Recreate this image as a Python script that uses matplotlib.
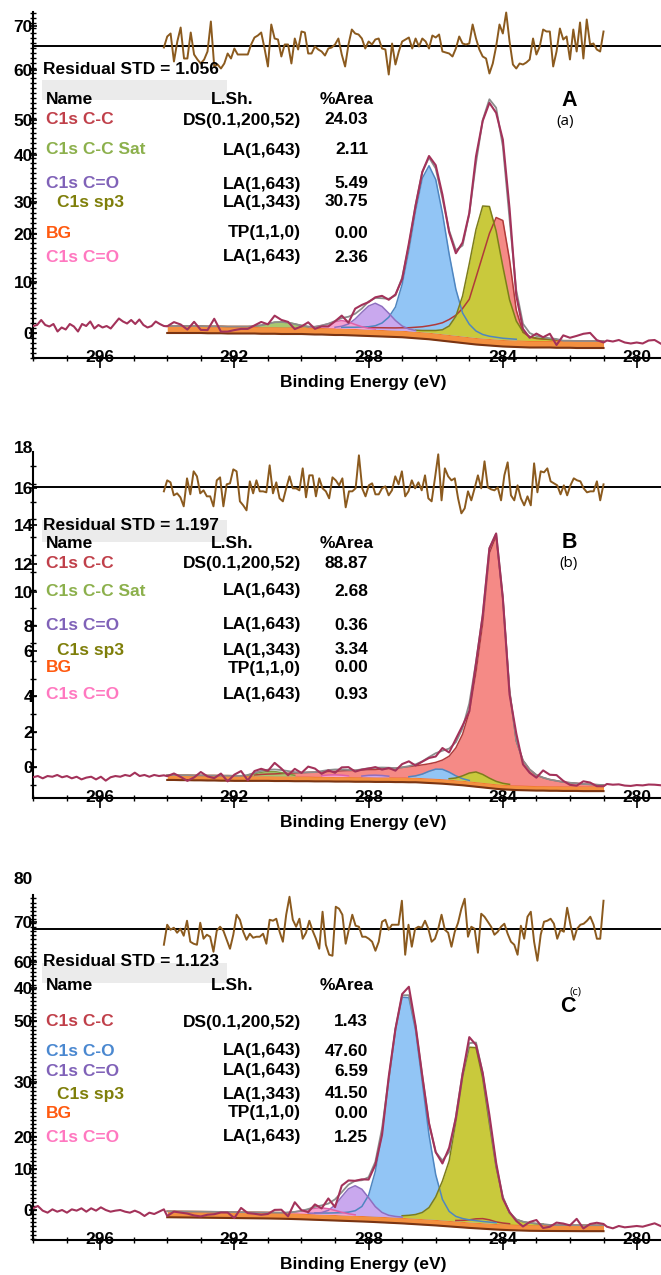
import numpy as np
import matplotlib.pyplot as plt
from matplotlib.patches import Rectangle

plt.rcParams['font.family'] = ['Liberation Sans', 'DejaVu Sans']

W, H = 661, 1275
E_HI, E_STEP = 294.0, 0.2
energy = np.round(E_HI - E_STEP * np.arange(66), 1)   # fitted region 294.0 ... 281.0 eV

x_major = [296, 292, 288, 284, 280]

# ---------------- panel A ----------------
a_ytick_pos = [61.3, 52.6, 42.5, 35.6, 26.2, 19.8, 10.2, 0]
a_ytick_lab = ['70', '60', '50', '40', '30', '20', '10', '0']
a_data_left = [1.4, 1.6, 2.6, 1.6, 1.3, 1.8, 0.3, 1.1, 0.7, 1.8, 1.3, 0.3, 1.8, 1.4, 2.3, 0.9, 1.6,
               1.1, 1.4, 0.9, 1.9, 2.9, 2.3, 1.9, 2.6, 1.8, 2.7, 1.6, 1.1, 1.4, 2.3, 1.8, 1.4]
a_data_right = [-1.5, -1.7, -1.4, -1.9, -2.1, -1.9, -2.1, -1.5, -1.4, -2.1]
a_bg = [1.4, 1.4, 1.4, 1.4, 1.4, 1.4, 1.35, 1.35, 1.35, 1.3, 1.3, 1.3, 1.3, 1.3, 1.25, 1.25, 1.25, 1.2, 1.2, 1.2, 1.2,
        1.15, 1.1, 1.1, 1.05, 1.0, 1.0, 0.95, 0.9, 0.85, 0.8, 0.75, 0.7, 0.65, 0.6, 0.55,
        0.45, 0.35, 0.25, 0.15, 0.0, -0.15, -0.3, -0.45, -0.6, -0.75, -0.9, -1.0, -1.1, -1.2, -1.3, -1.35, -1.4,
        -1.45, -1.5, -1.5, -1.5, -1.5, -1.55, -1.55, -1.55, -1.6, -1.6, -1.6, -1.6, -1.6]
a_cc = (288.0, [0.3, 0.32, 0.35, 0.38, 0.42, 0.5, 0.6, 0.8, 1.0, 1.3, 1.7, 2.2, 3.0, 4.0, 5.5, 7.5, 12.0, 16.5,
                21.0, 24.3, 23.8, 16.0, 6.0, 1.6, 0.7, 0.4, 0.3, 0.2, 0.15])
a_co = (288.8, [0.15, 0.2, 0.25, 0.35, 0.45, 0.7, 1.3, 2.5, 4.6, 9.2, 16.1, 24.1, 30.7, 33.3, 30.7, 24.1, 16.1,
                9.2, 4.6, 2.5, 1.3, 0.7, 0.45, 0.35, 0.25, 0.2, 0.15])
a_sp3 = (286.6, [0.2, 0.25, 0.35, 0.5, 0.8, 1.7, 3.8, 8.0, 14.6, 21.6, 26.4, 26.4, 21.6, 14.6, 8.0, 3.8, 1.7,
                 0.8, 0.5, 0.35, 0.25, 0.2])
a_cdo = (289.0, [0.15, 0.35, 0.85, 1.9, 3.3, 4.6, 5.2, 4.6, 3.3, 1.9, 0.85, 0.35, 0.15])
a_cdo2 = (289.8, [0.05, 0.15, 0.4, 0.8, 1.25, 1.5, 1.25, 0.8, 0.4, 0.15, 0.05])
a_sat = (291.4, [0.1, 0.3, 0.6, 0.9, 1.0, 0.9, 0.6, 0.3, 0.1])
a_resid = [-1, 10, 13, -15, 5, 19, -12, -12, 14, -8, -13, -17, -13, -5, 25, -20, -18, -22, -17, -7,
           -12, -2, -8, -8, -8, -8, 2, 9, 11, 14, -2, -20, 22, 8, 7, -10, 2, 2, -17, 8,
           -3, 15, 14, -7, -7, 0, -3, -5, -9, -2, -1, 2, 8, -8, -20, 2, 17, 13, 12, 8,
           -2, 5, 2, 7, 8, -2, -3, -28, 3, -18, -5, 5, 7, 9, -2, 8, 0, 8, 5, -2,
           11, 9, 12, -5, -6, -7, -10, -2, 10, 3, 2, 3, 22, 8, -3, -10, -12, -27, -17, 0,
           22, 13, 34, 5, -18, -22, -17, -18, -16, -13, 8, -8, 0, 17, 15, 15, -20, -5, 18, 7,
           10, -13, 17, -5, 24, -12, 27, 2, 3, -3, -5, 15]
a_names = ['C1s C-C', 'C1s C-C Sat', 'C1s C=O', 'C1s sp3', 'BG', 'C1s C=O']
a_shapes = ['DS(0.1,200,52)', 'LA(1,643)', 'LA(1,643)', 'LA(1,343)', 'TP(1,1,0)', 'LA(1,643)']
a_area = ['24.03', '2.11', '5.49', '30.75', '0.00', '2.36']

# ---------------- panel B ----------------
b_ytick_pos = [17.97, 15.76, 13.67, 11.47, 9.89, 7.97, 6.55, 4.01, 1.98, 0]
b_ytick_lab = ['18', '16', '14', '12', '10', '8', '6', '4', '2', '0']
b_data_left = [-0.58, -0.51, -0.64, -0.51, -0.55, -0.45, -0.58, -0.51, -0.64, -0.55, -0.70, -0.60, -0.55, -0.70,
               -0.55, -0.77, -0.58, -0.51, -0.55, -0.45, -0.51, -0.32, -0.51, -0.45, -0.55, -0.45, -0.51, -0.47]
b_data_right = [-0.96, -1.0, -0.98, -1.05, -1.07, -1.02, -1.04, -0.99, -1.0, -1.03]
b_bg = [-0.45, -0.45, -0.46, -0.46, -0.47, -0.47, -0.48, -0.48, -0.49, -0.49, -0.5, -0.5, -0.5, -0.5,
        -0.5, -0.5, -0.51, -0.51, -0.51, -0.52, -0.52, -0.52, -0.53, -0.53, -0.53, -0.54, -0.54, -0.54,
        -0.55, -0.55, -0.55, -0.56, -0.56, -0.56, -0.57, -0.57, -0.58, -0.58,
        -0.6, -0.62, -0.64, -0.66, -0.69, -0.72, -0.75, -0.79, -0.83, -0.87, -0.91, -0.95, -0.98, -1.0,
        -1.02, -1.03, -1.04, -1.05, -1.05, -1.06, -1.06, -1.07, -1.07, -1.07, -1.08, -1.08, -1.08, -1.08]
b_cc = (291.4, [0.05, 0.08, 0.1, 0.12, 0.14, 0.16, 0.18, 0.2, 0.22, 0.24, 0.26, 0.28, 0.3, 0.32, 0.34, 0.36,
                0.38, 0.4, 0.42, 0.45, 0.48, 0.5, 0.55, 0.6, 0.65, 0.72, 0.8, 0.9, 1.05, 1.3, 1.8, 2.6, 3.9,
                6.2, 9.0, 13.0, 14.0, 10.5, 5.3, 2.5, 1.4, 0.9, 0.6, 0.45, 0.35, 0.28, 0.22, 0.18, 0.15,
                0.12, 0.1, 0.08, 0.06])
b_sat = (291.6, [0.05, 0.12, 0.2, 0.25, 0.25, 0.2, 0.12, 0.05])
b_cdo = (288.2, [0.04, 0.08, 0.1, 0.08, 0.04])
b_cdo2 = (289.4, [0.04, 0.08, 0.1, 0.08, 0.04])
b_co = (286.8, [0.03, 0.08, 0.2, 0.38, 0.52, 0.53, 0.4, 0.22, 0.09, 0.03])
b_sp3 = (285.6, [0.03, 0.1, 0.25, 0.45, 0.55, 0.45, 0.28, 0.14, 0.06, 0.02])
b_resid = [-4, 7, 5, -8, -6, -10, -19, 9, -7, 16, 11, -6, -3, -9, -9, -19, 7, 10, -19, 3,
           4, 18, 16, -14, -18, -23, 6, -6, 7, -4, -4, -5, 22, -6, 5, -11, -14, -1, 11, -1,
           -1, -3, 19, -10, 12, 12, -9, 9, -1, -4, -11, 10, 7, 2, 9, -20, -4, -4, -1, 32,
           -1, -9, 2, 4, -7, -7, -1, 1, -8, -3, 11, 3, 16, -9, -4, 7, -1, 5, -3, 12,
           -11, -14, 9, 33, -13, 19, 11, 7, 9, -11, -26, -21, -4, -13, -1, 12, -1, 26, 0, -2,
           -3, 0, -13, 12, 25, -8, -13, 2, -11, -18, -9, -18, 24, -5, 16, 15, 19, 6, 4, 2,
           -7, 2, -8, 2, 9, 7, 6, -1, -5, -4, -4, 6, -13, 3]
b_area = ['88.87', '2.68', '0.36', '3.34', '0.00', '0.93']

# ---------------- panel C ----------------
c_ytick_pos = [80.7, 70.2, 60.5, 54.1, 46.1, 31.2, 17.8, 10, 0]
c_ytick_lab = ['80', '70', '60', '40', '50', '30', '20', '10', '0']
c_data_left = [0.41, 0.98, -0.16, -0.65, 0.16, -0.41, 0.0, -0.65, 0.16, -0.16, 0.41, -0.41, 0.41, -0.16,
               0.65, 0.0, -0.41, -0.16, 0.0, -0.41, -0.65, -0.16, -0.65, -1.46, -0.65, -0.98, -0.41, 0.16]
c_data_right = [-4.07, -4.47, -3.9, -4.23, -4.07, -3.9, -4.07, -3.66, -3.25, -3.9]
c_bg = [-0.3, -0.32, -0.34, -0.36, -0.38, -0.4, -0.42, -0.44, -0.46, -0.48, -0.5, -0.52, -0.54, -0.56,
        -0.58, -0.6, -0.63, -0.66, -0.7, -0.75, -0.8,
        -0.86, -0.92, -0.98, -1.04, -1.1, -1.16, -1.22, -1.28, -1.34, -1.4, -1.48, -1.56, -1.64, -1.72, -1.8,
        -1.9, -2.0, -2.1, -2.2, -2.3, -2.42, -2.54, -2.66, -2.78, -2.9, -3.0, -3.1, -3.2, -3.3, -3.38,
        -3.45, -3.5, -3.55, -3.6, -3.62, -3.64, -3.65, -3.66, -3.67, -3.68, -3.69, -3.7, -3.7, -3.7, -3.7]
c_cc = (285.4, [0.1, 0.25, 0.5, 0.85, 1.0, 0.8, 0.4, 0.2, 0.1])
c_co = (289.6, [0.2, 0.25, 0.3, 0.4, 0.5, 0.7, 1.1, 2.2, 5.0, 10.9, 20.5, 33.3, 45.8, 53.7, 53.7, 45.8, 33.3,
                20.5, 10.9, 5.0, 2.2, 1.1, 0.7, 0.5, 0.4, 0.3, 0.25, 0.2])
c_sp3 = (287.0, [0.4, 0.6, 0.9, 1.5, 2.8, 5.5, 9.5, 14.5, 24.2, 35.2, 42.6, 42.6, 35.2, 24.2, 13.7, 6.4, 2.7,
                 1.2, 0.7, 0.45, 0.3, 0.2])
c_cdo = (289.8, [0.08, 0.15, 0.35, 0.96, 2.3, 4.4, 6.4, 7.2, 6.4, 4.4, 2.3, 0.96, 0.35, 0.15, 0.08])
c_cdo2 = (290.4, [0.1, 0.3, 0.6, 1.0, 1.35, 1.5, 1.35, 1.0, 0.6, 0.3, 0.1])
c_resid = [-16, 4, -1, 1, -4, 0, -7, 8, -13, -15, -16, 6, -10, -6, -8, -23, -2, 2, -2, -11,
           -20, -6, 14, 9, -3, -11, -5, -9, -8, -8, -5, -15, 9, 8, 10, -3, -13, 14, 32, 9,
           2, 10, -10, -4, 8, -2, -10, -20, 17, -16, -26, -27, 22, 20, 14, -15, 0, 14, 3, 2,
           -8, -8, -10, -13, -22, -13, 7, 9, -1, 4, 4, 4, 28, -26, 4, -18, 0, 2, 1, 8,
           0, -13, -10, 0, 14, -1, -4, -18, -3, 6, 20, 30, -8, 2, 0, -24, 15, 12, 7, 2,
           -6, -3, 2, 5, -5, -13, -16, -26, 3, -10, 12, 17, -13, -32, -6, 7, 8, 10, 5, -10,
           -1, -3, 21, 4, -11, 0, 4, 5, 8, 12, 4, -10, -10, 28]
c_names = ['C1s C-C', 'C1s C-O', 'C1s C=O', 'C1s sp3', 'BG', 'C1s C=O']
c_area = ['1.43', '47.60', '6.59', '41.50', '0.00', '1.25']

name_colors = {'C1s C-C': '#c0404a', 'C1s C-C Sat': '#8cb04c', 'C1s C=O': '#8062b8',
               'C1s sp3': '#7f7f0a', 'BG': '#ff5a10', 'C1s C-O': '#4a88d0'}
PINK_NAME = '#ff78c0'

RED = ('#f58a86', '#b03a3a')
BLUE = ('#92c5f5', '#4f86c0')
YELLOW = ('#c9c93c', '#7d7d1a')
PURPLE = ('#c9a8ee', '#8f6fc0')
PINK = ('#f5a3d2', '#e060a8')
GREEN = ('#a8c870', '#7a9a40')

FS = 12.5

fig = plt.figure(figsize=(W / 100, H / 100), dpi=100)


def fx(x):
    return x / W


def fy(y):
    return 1 - y / H


def on_grid(start, vals):
    out = np.zeros(len(energy))
    i = int(round((E_HI - start) / E_STEP))
    out[i:i + len(vals)] = vals
    return out, slice(i, i + len(vals))


def draw_panel(g, bg, comps, left, right, resid, yt_pos, yt_lab):
    ppu, zero = g['ppu'], g['zero']
    ax = fig.add_axes([33 / W, fy(g['bottom']), 628 / W, (g['bottom'] - g['top']) / H])
    ax.patch.set_visible(False)
    ylo, yhi = (zero - g['bottom']) / ppu, (zero - g['top']) / ppu
    ytop = (zero - g['spine_top']) / ppu
    ax.set_xlim(298.0, 298.0 - 628 / 33.56)
    ax.set_ylim(ylo, yhi)

    # background band
    bg = np.asarray(bg, float)
    band = g['band'] / ppu
    ax.fill_between(energy, bg - band, bg, color='#f39040', lw=0, zorder=2)
    ax.plot(energy, bg, color='#ee5a14', lw=1.2, zorder=2.1)
    ax.plot(energy, bg - band, color='#7a3412', lw=1.5, zorder=2.1)

    # fitted components sitting on the background
    env = bg.copy()
    outlines = []
    for (start, vals), (fc, ec) in comps:
        c, sl = on_grid(start, vals)
        env += c
        ax.fill_between(energy[sl], bg[sl], bg[sl] + c[sl], color=fc, lw=0, zorder=3)
        outlines.append((energy[sl], bg[sl] + c[sl], ec))
    for x, y, ec in outlines:
        ax.plot(x, y, color=ec, lw=1.1, zorder=4)
    ax.plot(energy, env, color='#8c8c8c', lw=1.3, zorder=5)

    # measured spectrum
    res = np.asarray(resid, float) / ppu
    meas = env + 0.3 * res[::2][:len(energy)]
    xs = np.concatenate([np.linspace(298.0, 294.1, len(left)), energy,
                         np.linspace(280.9, 279.3, len(right))])
    ys = np.concatenate([left, meas, right])
    ax.plot(xs, ys, color='#a3325a', lw=1.5, zorder=6)

    # residual trace
    base = g['res_base']
    ax.axhline(base, color='black', lw=1.4, zorder=6)
    ax.plot(np.linspace(294.1, 281.0, len(res)), base + res, color='#8b5a1e', lw=1.4, zorder=7)

    for s in ('top', 'right'):
        ax.spines[s].set_visible(False)
    ax.spines['left'].set_bounds(ylo, ytop)
    ax.spines['left'].set_linewidth(1.5)
    ax.spines['bottom'].set_linewidth(1.5)

    inside = [(p, l) for p, l in zip(yt_pos, yt_lab) if p <= ytop]
    ax.set_yticks([p for p, _ in inside], [l for _, l in inside])
    for p, l in zip(yt_pos, yt_lab):
        if p > ytop:
            ax.text(0, p, l, transform=ax.get_yaxis_transform(), ha='right', va='center',
                    fontsize=FS, fontweight='bold')
    ax.set_yticks(np.arange(np.ceil(ylo), np.floor(ytop) + 1), minor=True)
    ax.yaxis.remove_overlapping_locs = False
    ax.tick_params(axis='y', which='major', direction='inout', length=6, width=1.2, pad=-3, labelsize=FS)
    for t in ax.get_yticklabels():
        t.set_fontweight('bold')
    ax.tick_params(axis='y', which='minor', direction='inout', length=4, width=1.0)

    ax.set_xticks(x_major, [''] * len(x_major))
    ax.set_xticks(np.arange(280, 299), minor=True)
    ax.xaxis.remove_overlapping_locs = False
    ax.tick_params(axis='x', which='major', direction='out', length=7, width=1.2)
    ax.tick_params(axis='x', which='minor', direction='inout', length=4.5, width=1.0)
    for v in x_major:
        ax.text(v, 0, str(v), transform=ax.get_xaxis_transform(), ha='center', va='center',
                fontsize=FS, fontweight='bold', zorder=1)
    fig.text(fx(363), fy(g['bottom'] + 25), 'Binding Energy (eV)', ha='center', va='center',
             fontsize=FS, fontweight='bold')
    return ax


def draw_table(t, std, names, shapes, areas):
    fig.add_artist(Rectangle((fx(42), fy(t['box'][1])), 185 / W, (t['box'][1] - t['box'][0]) / H,
                             transform=fig.transFigure, facecolor='#ebebeb', edgecolor='none', zorder=1))
    kw = dict(va='center', fontsize=FS, fontweight='bold', zorder=3)
    fig.text(fx(43), fy(t['std']), 'Residual STD = ' + std, ha='left', **kw)
    fig.text(fx(46), fy(t['head']), 'Name', ha='left', **kw)
    fig.text(fx(232), fy(t['head']), 'L.Sh.', ha='center', **kw)
    fig.text(fx(320), fy(t['head']), '%Area', ha='left', **kw)
    for i, (n, s, a, y) in enumerate(zip(names, shapes, areas, t['rows'])):
        col = PINK_NAME if (n == 'C1s C=O' and i == len(names) - 1) else name_colors[n]
        xn = 57 if n == 'C1s sp3' else 46
        fig.text(fx(xn), fy(y), n, ha='left', color=col, **kw)
        fig.text(fx(301), fy(y), s, ha='right', **kw)
        fig.text(fx(368), fy(y), a, ha='right', **kw)
    fig.text(fx(t['tag'][0]), fy(t['tag'][1]), t['tag'][2], ha='center', va='center',
             fontsize=15.5, fontweight='bold')
    fig.text(fx(t['sub'][0]), fy(t['sub'][1]), t['sub'][2], ha='center', va='center',
             fontsize=t['sub'][3], family=['Open Sans', 'DejaVu Sans'])


geom_a = dict(zero=333, ppu=5.0, top=5, bottom=358, spine_top=12, band=7, res_base=57.3)
geom_b = dict(zero=767, ppu=17.7, top=445, bottom=798, spine_top=452, band=5, res_base=15.8)
geom_c = dict(zero=1210, ppu=4.1, top=870, bottom=1240, spine_top=895, band=6, res_base=68.6)

draw_panel(geom_a, a_bg, [(a_cc, RED), (a_co, BLUE), (a_sp3, YELLOW), (a_cdo, PURPLE), (a_cdo2, PINK),
                          (a_sat, GREEN)], a_data_left, a_data_right, a_resid, a_ytick_pos, a_ytick_lab)
draw_panel(geom_b, b_bg, [(b_cc, RED), (b_sat, GREEN), (b_cdo, PURPLE), (b_cdo2, PINK), (b_co, BLUE),
                          (b_sp3, YELLOW)], b_data_left, b_data_right, b_resid, b_ytick_pos, b_ytick_lab)
draw_panel(geom_c, c_bg, [(c_cc, RED), (c_co, BLUE), (c_sp3, YELLOW), (c_cdo, PURPLE), (c_cdo2, PINK)],
           c_data_left, c_data_right, c_resid, c_ytick_pos, c_ytick_lab)

draw_table(dict(std=70, box=(80, 100), head=99, rows=[120, 150, 184, 202, 233, 257],
                tag=(569, 100, 'A'), sub=(565, 121, '(a)', 11)), '1.056', a_names, a_shapes, a_area)
draw_table(dict(std=525, box=(520, 542), head=543, rows=[563, 591, 625, 650, 668, 695],
                tag=(569, 543, 'B'), sub=(569, 564, '(b)', 11)), '1.197', a_names, a_shapes, b_area)
draw_table(dict(std=962, box=(963, 983), head=986, rows=[1022, 1051, 1071, 1094, 1113, 1137],
                tag=(568, 1006, 'C'), sub=(576, 992, '(c)', 8)), '1.123', c_names, a_shapes, c_area)

fig.savefig('out.png', dpi=100)
